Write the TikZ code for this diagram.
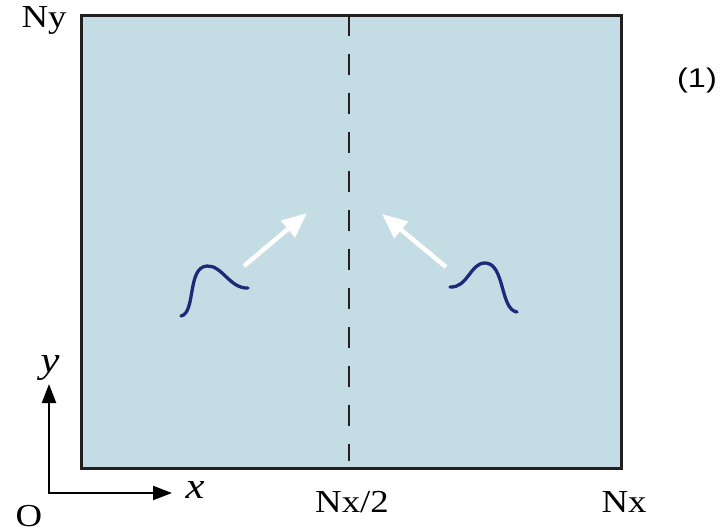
\documentclass[tikz,border=0pt]{standalone}
\usepackage{fontspec}
\setmainfont{Liberation Serif}
\newfontfamily\lblfont[FakeStretch=1.15]{Liberation Serif}
\newfontfamily\numfont[FakeStretch=1.2]{Liberation Sans}
\usetikzlibrary{arrows.meta}
\definecolor{panel}{HTML}{C4DCE4}
\definecolor{wavecol}{HTML}{1E2A78}
\definecolor{edge}{HTML}{231F20}
\tikzset{
  lbl/.style={anchor=base, inner sep=0pt, font=\lblfont\fontsize{32}{32}\selectfont},
  axlbl/.style={anchor=base, inner sep=0pt, font=\lblfont\itshape\fontsize{37}{37}\selectfont},
  wavestyle/.style={draw=wavecol, line width=3.3pt, line cap=round},
  movearrow/.style={draw=white, line width=4.5pt, -{Triangle[length=25pt,width=21pt]}},
  axis/.style={draw=black, line width=2.2pt}
}
\begin{document}
\begin{tikzpicture}[x=1pt,y=-1pt]
\useasboundingbox (0,0) rectangle (726,532);
\node[draw=edge, fill=panel, line width=3pt, minimum width=540pt, minimum height=453pt, anchor=north west, inner sep=0pt] (panel) at (80,14) {};
% middle dashed line
\coordinate (mtop) at (349,15);
\coordinate (mbot) at (349,461);
\draw[dash pattern=on 21pt off 18pt, line width=1.5pt, draw=edge] (mtop) -- (mbot);
% waves
\draw[wavestyle] (181,316) .. controls (196,313) and (187,267) .. (207,266) .. controls (222,265) and (230,289) .. (248,288);
\draw[wavestyle] (450,287) .. controls (468,288) and (470,263) .. (485,263) .. controls (505,263) and (500,310) .. (517,312);
% arrows
\coordinate (la) at (244,266);
\coordinate (lb) at (307,213);
\coordinate (ra) at (446,267);
\coordinate (rb) at (382,214);
\draw[movearrow] (la) -- (lb);
\draw[movearrow] (ra) -- (rb);
% axes
\coordinate (O) at (49,493);
\coordinate (ytip) at (49,384);
\coordinate (xtip) at (172,493);
\draw[axis, {Triangle[length=19pt,width=14pt]}-{Triangle[length=19pt,width=14pt]}] (ytip) -- (O) -- (xtip);
% labels
\node[lbl] (ny) at (44,28) {Ny};
\node[lbl] (nxh) at (352,512) {Nx/2};
\node[lbl] (nx) at (624,512) {Nx};
\node[lbl] (o) at (29,526) {O};
\node[axlbl] (xl) at (195,498) {x};
\node[axlbl] (yl) at (50,372) {y};
\node[anchor=base, inner sep=0pt, font=\numfont\fontsize{27}{27}\selectfont] (eq) at (697,88) {(1)};
\end{tikzpicture}
\end{document}
